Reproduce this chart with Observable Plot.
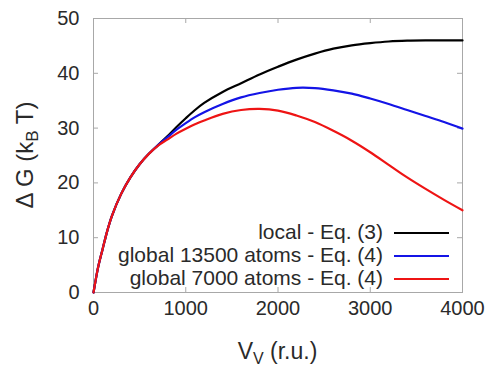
<!DOCTYPE html>
<html><head><meta charset="utf-8">
<script src="https://cdn.jsdelivr.net/npm/d3@7"></script>
<script src="https://cdn.jsdelivr.net/npm/@observablehq/plot@0.6"></script>
<style>body{margin:0;background:#fff;}</style>
</head><body><div id="chart"></div>
<script>
// V_V (r.u.)
const vv = [0, 25, 50, 100, 150, 200, 300, 400, 500, 600, 700, 800, 900, 1000, 1100, 1200, 1400, 1600, 1800, 2000, 2200, 2400, 2600, 2800, 3000, 3200, 3400, 3600, 3800, 4000];
// ΔG (kB T)
const gLocal =        [0, 2.4, 4.6, 8.0, 11.3, 14.0, 18.0, 21.0, 23.4, 25.3, 26.9, 28.5, 30.2, 31.8, 33.3, 34.6, 36.6, 38.2, 39.8, 41.2, 42.5, 43.6, 44.5, 45.1, 45.5, 45.8, 45.95, 46.0, 46.0, 46.0];
const gGlobal13500 =  [0, 2.4, 4.6, 8.0, 11.3, 14.0, 18.0, 21.0, 23.4, 25.3, 26.9, 28.3, 29.7, 30.9, 32.0, 32.9, 34.4, 35.6, 36.4, 37.0, 37.35, 37.3, 36.9, 36.3, 35.4, 34.4, 33.3, 32.2, 31.1, 29.9];
const gGlobal7000 =   [0, 2.4, 4.6, 8.0, 11.3, 14.0, 18.0, 21.0, 23.4, 25.3, 26.8, 27.9, 29.0, 29.9, 30.7, 31.4, 32.6, 33.3, 33.5, 33.2, 32.3, 31.1, 29.5, 27.7, 25.6, 23.3, 21.0, 18.9, 16.9, 15.0];
const xTicks = [0, 1000, 2000, 3000, 4000];
const yTicks = [0, 10, 20, 30, 40, 50];
const seriesNames = ["local - Eq. (3)", "global 13500 atoms - Eq. (4)", "global 7000 atoms - Eq. (4)"];
const seriesColors = ["#000000", "#1414e6", "#ee1414"];

const seriesValues = [gLocal, gGlobal13500, gGlobal7000];
const rows = seriesValues.flatMap((vals, s) => vals.map((g, i) => ({v: vv[i], g, s})));

const W = 486, H = 368;
const mL = 93, mR = 24, mT = 18, mB = 76;
const iw = W - mL - mR, ih = H - mT - mB;
const tickLen = 5;
const frameColor = "#a8a8a8";
const ff = "'Liberation Sans', Arial, sans-serif";

const chart = Plot.plot({
  width: W, height: H,
  marginLeft: mL, marginRight: mR, marginTop: mT, marginBottom: mB,
  style: {fontFamily: ff, fontSize: "20px", color: "#2a2a2a", background: "#fff"},
  x: {domain: [0, 4000], ticks: xTicks, tickFormat: "d", tickSize: 0, tickPadding: 8, label: null},
  y: {domain: [0, 50], ticks: yTicks, tickFormat: "d", tickSize: 0, tickPadding: 14, label: null},
  marks: [
    Plot.frame({stroke: frameColor}),
    Plot.tickX(xTicks, {x: d => d, insetTop: ih - tickLen, stroke: frameColor}),
    Plot.tickX(xTicks, {x: d => d, insetBottom: ih - tickLen, stroke: frameColor}),
    Plot.tickY(yTicks, {y: d => d, insetRight: iw - tickLen, stroke: frameColor}),
    Plot.tickY(yTicks, {y: d => d, insetLeft: iw - tickLen, stroke: frameColor}),
    Plot.line(rows, {x: "v", y: "g", z: "s", stroke: d => seriesColors[d.s], strokeWidth: 2.2, curve: "catmull-rom"})
  ]
});
document.getElementById("chart").appendChild(chart);

const svg = d3.select(chart);

// x title
const xt = svg.append("text").attr("x", mL + iw / 2).attr("y", 359).attr("text-anchor", "middle")
  .attr("font-family", ff).attr("font-size", 23).attr("fill", "#2a2a2a");
xt.append("tspan").text("V");
xt.append("tspan").attr("font-size", 16).attr("dy", 5).text("V");
xt.append("tspan").attr("dy", -5).text(" (r.u.)");

// y title
const yt = svg.append("text").attr("transform", `translate(33,${mT + ih / 2}) rotate(-90)`).attr("text-anchor", "middle")
  .attr("font-family", ff).attr("font-size", 24).attr("fill", "#2a2a2a");
yt.append("tspan").text("Δ G (k");
yt.append("tspan").attr("font-size", 17).attr("dy", 5).text("B");
yt.append("tspan").attr("dy", -5).text(" T)");

// legend
const lg = svg.append("g");
seriesNames.forEach((name, i) => {
  const cy = 233 + i * 23;
  lg.append("text").attr("x", 383).attr("y", cy + 6).attr("text-anchor", "end")
    .attr("font-family", ff).attr("font-size", 21).attr("fill", "#2a2a2a").text(name);
  lg.append("line").attr("x1", 394).attr("x2", 449).attr("y1", cy).attr("y2", cy)
    .attr("stroke", seriesColors[i]).attr("stroke-width", 2.2);
});
</script>
</body></html>
